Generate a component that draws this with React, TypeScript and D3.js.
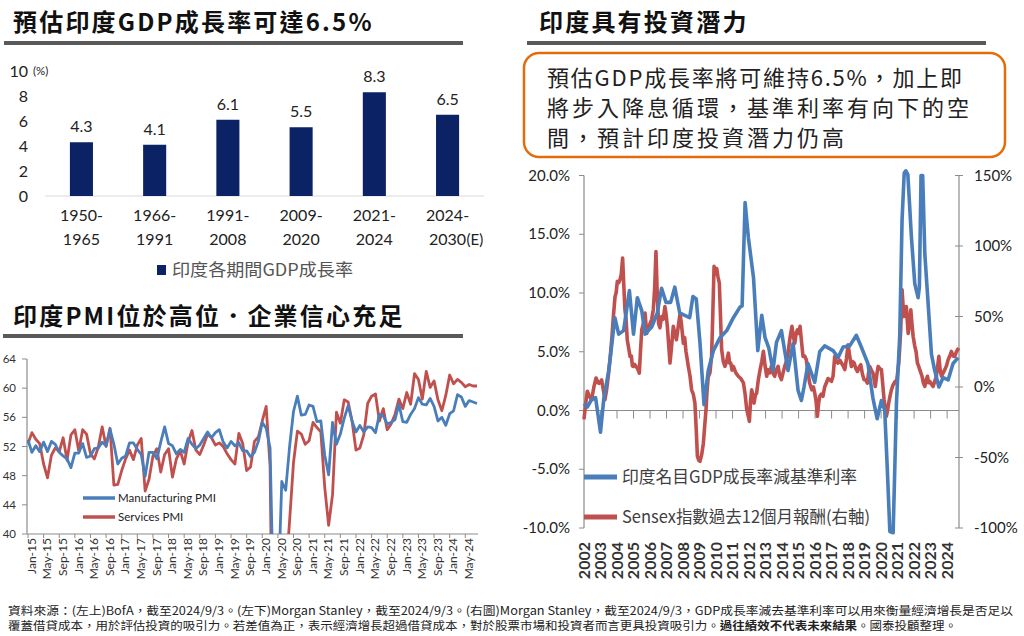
import React from "react";
import * as d3 from "d3";

const CJK = "'Noto Sans CJK TC', 'Noto Sans CJK SC', sans-serif";
const LAT = "Lato, 'Noto Sans', sans-serif";
const BLUE = "#4A7EBB";
const RED = "#C0504D";
const NAVY = "#0B2265";
const AXIS = "#8C8C8C";

// ---------- Panel 1: GDP growth by period ----------
const gdpPeriods = ["1950-1965", "1966-1991", "1991-2008", "2009-2020", "2021-2024", "2024-2030(E)"];
const gdpGrowth = [4.3, 4.1, 6.1, 5.5, 8.3, 6.5];
const gdpTicks = [0, 2, 4, 6, 8, 10];

// ---------- Panel 2: PMI (monthly Jan-15 .. Aug-24) ----------
const pmiTickLabels = [
  "Jan-15", "May-15", "Sep-15", "Jan-16", "May-16", "Sep-16", "Jan-17", "May-17", "Sep-17",
  "Jan-18", "May-18", "Sep-18", "Jan-19", "May-19", "Sep-19", "Jan-20", "May-20", "Sep-20",
  "Jan-21", "May-21", "Sep-21", "Jan-22", "May-22", "Sep-22", "Jan-23", "May-23", "Sep-23",
  "Jan-24", "May-24",
];
const pmiTicks = [40, 44, 48, 52, 56, 60, 64];
const manufacturingPMI = [
  52.9, 51.2, 52.1, 51.3, 52.6, 51.3, 52.7, 52.3, 51.2, 50.7, 50.3, 49.1,
  51.1, 51.1, 52.4, 50.5, 50.7, 51.7, 51.8, 52.6, 52.1, 54.4, 52.3, 49.6,
  50.4, 50.7, 52.5, 52.5, 51.6, 50.9, 47.9, 51.2, 51.2, 50.3, 52.6, 54.7,
  52.4, 52.1, 51.0, 51.6, 51.2, 53.1, 52.3, 51.7, 52.2, 53.1, 54.0, 53.2,
  53.9, 54.3, 52.6, 51.8, 52.7, 52.1, 52.5, 51.4, 51.4, 50.6, 51.2, 52.7,
  55.3, 54.5, 51.8, 27.4, 30.8, 47.2, 46.0, 52.0, 56.8, 58.9, 56.3, 56.4,
  57.7, 57.5, 55.4, 55.5, 50.8, 48.1, 55.3, 52.3, 53.7, 55.9, 57.6, 55.5,
  54.0, 54.9, 54.0, 54.7, 54.6, 53.9, 56.4, 56.2, 55.1, 55.3, 55.7, 57.8,
  55.4, 55.3, 56.4, 57.2, 58.7, 57.8, 57.7, 58.6, 57.5, 55.5, 56.0, 54.9,
  56.5, 56.9, 59.1, 58.8, 57.5, 58.3, 58.1, 57.9,
];
const servicesPMI = [
  52.4, 53.9, 53.0, 52.4, 49.6, 47.7, 50.8, 51.8, 51.3, 53.2, 50.1, 53.6,
  54.3, 51.4, 54.3, 53.7, 51.0, 50.3, 51.9, 54.7, 52.0, 54.5, 46.7, 46.8,
  48.7, 50.3, 51.5, 50.2, 52.2, 53.1, 45.9, 47.5, 50.7, 51.7, 48.5, 50.9,
  51.7, 47.8, 50.3, 51.4, 49.6, 52.6, 54.2, 51.5, 50.9, 52.2, 53.7, 53.2,
  52.2, 52.5, 52.0, 51.0, 50.2, 49.6, 53.8, 52.4, 48.7, 49.2, 52.7, 53.3,
  55.5, 57.5, 49.3, 5.4, 12.6, 33.7, 34.2, 41.8, 49.8, 54.1, 53.7, 52.3,
  52.8, 55.3, 54.6, 54.0, 46.4, 41.2, 45.4, 56.7, 55.2, 58.4, 58.1, 55.5,
  51.5, 51.8, 53.6, 57.9, 58.9, 59.2, 55.5, 57.2, 54.3, 55.1, 56.4, 58.5,
  57.2, 59.4, 57.8, 62.0, 61.2, 58.5, 62.3, 60.1, 61.0, 58.4, 56.9, 59.0,
  61.8, 60.6, 61.2, 60.8, 60.2, 60.5, 60.3, 60.3,
];

// ---------- Panel 3: nominal GDP growth minus policy rate vs Sensex 12m return ----------
const yearLabels = [
  2002, 2003, 2004, 2005, 2006, 2007, 2008, 2009, 2010, 2011, 2012, 2013,
  2014, 2015, 2016, 2017, 2018, 2019, 2020, 2021, 2022, 2023, 2024,
];
const leftTicks = [-10, -5, 0, 5, 10, 15, 20];
const rightTicks = [-100, -50, 0, 50, 100, 150];
const gdpMinusRate: [number, number][] = [
  [2002.0, 0.6], [2002.2, 0.3], [2002.45, 0.9], [2002.7, 1.1], [2003.0, -1.85], [2003.2, 1.0],
  [2003.5, 3.4], [2003.87, 7.9], [2004.1, 6.5], [2004.4, 6.8], [2004.75, 10.2], [2005.0, 6.5],
  [2005.23, 9.6], [2005.5, 8.5], [2005.7, 6.5], [2006.1, 7.1], [2006.44, 8.3], [2006.7, 10.4],
  [2006.97, 9.2], [2007.25, 9.2], [2007.5, 10.5], [2007.8, 8.3], [2008.1, 8.1], [2008.4, 7.9],
  [2008.6, 9.7], [2008.8, 9.5], [2009.03, 5.7], [2009.27, 0.5], [2009.53, 3.4], [2009.84, 5.1],
  [2010.24, 6.2], [2010.65, 6.8], [2011.05, 7.9], [2011.45, 8.8], [2011.58, 8.9], [2011.76, 17.7],
  [2011.96, 14.7], [2012.27, 11.3], [2012.53, 5.1], [2012.77, 8.1], [2012.97, 6.2], [2013.2, 5.3],
  [2013.45, 3.4], [2013.66, 5.8], [2013.96, 6.8], [2014.12, 5.4], [2014.36, 3.4], [2014.67, 5.7],
  [2014.97, 1.7], [2015.17, 0.85], [2015.33, 2.0], [2015.57, 4.0], [2015.98, 2.4], [2016.28, 5.0],
  [2016.58, 5.5], [2017.09, 5.1], [2017.39, 4.5], [2017.7, 5.4], [2018.1, 5.5], [2018.5, 6.4],
  [2018.8, 5.4], [2019.2, 4.0], [2019.5, 1.1], [2019.76, -0.7], [2020.02, 0.85], [2020.22, 0.0],
  [2020.38, -5.1], [2020.53, -10.3], [2020.73, -10.4], [2020.93, 0.6], [2021.13, 6.4], [2021.27, 16.2],
  [2021.4, 20.2], [2021.5, 20.4], [2021.62, 20.1], [2021.84, 14.7], [2022.04, 10.8], [2022.24, 9.6],
  [2022.32, 10.5], [2022.42, 20.0], [2022.52, 20.0], [2022.65, 13.3], [2022.85, 9.1], [2023.05, 4.8],
  [2023.25, 3.4], [2023.5, 2.0], [2023.76, 2.8], [2024.06, 2.6], [2024.36, 4.0], [2024.67, 4.5],
];
const sensex12m: [number, number][] = [
  [2002.0, -23], [2002.1, -12], [2002.2, -3], [2002.3, -6], [2002.46, -9], [2002.6, 0], [2002.73, 6.4],
  [2002.85, 3], [2002.93, 2.6], [2003.07, 5], [2003.17, -2], [2003.27, -9], [2003.37, -2], [2003.47, 7.6],
  [2003.58, 20], [2003.68, 33.5], [2003.78, 50], [2003.88, 64], [2003.95, 67], [2004.02, 75], [2004.1, 74],
  [2004.18, 76], [2004.26, 80], [2004.34, 91.5], [2004.42, 70], [2004.48, 55], [2004.55, 48], [2004.62, 33.5],
  [2004.7, 28], [2004.79, 21.7], [2004.87, 22], [2004.93, 15], [2004.99, 14.6], [2005.07, 16], [2005.15, 14.6],
  [2005.25, 13], [2005.35, 9.9], [2005.42, 25], [2005.5, 40.6], [2005.6, 45], [2005.7, 52.4], [2005.8, 38],
  [2005.9, 42], [2006.0, 45], [2006.1, 48], [2006.2, 55], [2006.28, 70], [2006.36, 96], [2006.44, 65],
  [2006.52, 45], [2006.6, 42], [2006.7, 50], [2006.8, 48], [2006.9, 57], [2006.97, 52], [2007.05, 43],
  [2007.13, 30], [2007.21, 17], [2007.3, 28], [2007.41, 43], [2007.5, 38], [2007.6, 33.5], [2007.7, 42],
  [2007.82, 52], [2007.9, 45], [2008.02, 31], [2008.1, 35], [2008.18, 25], [2008.25, 20], [2008.32, 14.6],
  [2008.42, 8], [2008.52, -2], [2008.62, -5], [2008.72, -11.4], [2008.8, -30], [2008.87, -49], [2008.95, -52],
  [2009.03, -52.7], [2009.13, -48], [2009.23, -40], [2009.31, -28], [2009.39, -16.5], [2009.46, -2],
  [2009.53, 7.3], [2009.63, 10], [2009.73, 21.7], [2009.8, 50], [2009.88, 85.6], [2009.96, 80], [2010.04, 84],
  [2010.12, 78], [2010.2, 73.6], [2010.27, 50], [2010.34, 26.4], [2010.44, 18], [2010.54, 14.6], [2010.64, 18],
  [2010.75, 24], [2010.82, 17], [2010.89, 17], [2010.97, 12], [2011.05, 14.6], [2011.2, 10], [2011.35, 7.6],
  [2011.5, 6], [2011.66, 2.9], [2011.76, -5], [2011.86, -16], [2011.94, -20], [2012.02, -24.4], [2012.09, -10],
  [2012.16, -2], [2012.23, -6], [2012.3, -11.4], [2012.38, -6], [2012.46, -4.3], [2012.56, 5], [2012.67, 12.3],
  [2012.77, 18], [2012.87, 25.3], [2012.97, 15], [2013.07, 7.6], [2013.15, 12.3], [2013.25, 10], [2013.35, 14.6],
  [2013.45, 10], [2013.55, 7.6], [2013.65, 12], [2013.76, 14.6], [2013.86, 8], [2013.96, 5.2], [2014.06, 10],
  [2014.16, 14.6], [2014.26, 18], [2014.36, 24], [2014.48, 35], [2014.6, 43], [2014.68, 36], [2014.77, 31],
  [2014.85, 38], [2014.93, 40.6], [2015.01, 38], [2015.09, 43], [2015.18, 32], [2015.27, 21.7], [2015.37, 22],
  [2015.47, 19.3], [2015.57, 10], [2015.67, 2.8], [2015.8, -2], [2015.9, 0], [2015.98, -4.3], [2016.06, -10],
  [2016.14, -20.8], [2016.21, -12], [2016.28, -6.6], [2016.38, -5], [2016.48, -6.6], [2016.58, 0], [2016.68, 2.8],
  [2016.78, 6], [2016.89, 5.2], [2016.99, 4], [2017.09, 7.6], [2017.19, 21.7], [2017.29, 18], [2017.39, 17],
  [2017.5, 19], [2017.6, 17], [2017.7, 15], [2017.8, 12.3], [2017.9, 20], [2018.0, 30], [2018.1, 22],
  [2018.2, 14.6], [2018.28, 18], [2018.37, 17], [2018.47, 13], [2018.57, 11], [2018.67, 14], [2018.77, 15.8],
  [2018.87, 9], [2018.97, 5.2], [2019.07, 5], [2019.17, 2.8], [2019.24, 10], [2019.31, 14.6], [2019.41, 12],
  [2019.51, 9.9], [2019.58, 5], [2019.65, 0.4], [2019.73, 8], [2019.82, 14.6], [2019.92, 13], [2020.02, 12.3],
  [2020.1, 2], [2020.18, -9], [2020.25, -15], [2020.32, -20.8], [2020.4, -16], [2020.46, -11.4], [2020.55, -6],
  [2020.63, -1.9], [2020.71, 1], [2020.79, 2.8], [2020.86, 4], [2020.93, 2.8], [2021.0, 10], [2021.07, 17],
  [2021.13, 28], [2021.19, 40.6], [2021.23, 55], [2021.27, 69], [2021.33, 58], [2021.39, 50], [2021.46, 55],
  [2021.53, 57], [2021.58, 48], [2021.64, 38], [2021.72, 45], [2021.8, 54.8], [2021.87, 45], [2021.94, 36],
  [2022.04, 29], [2022.12, 25], [2022.2, 17], [2022.27, 15], [2022.34, 12.3], [2022.41, 10], [2022.48, 7.6],
  [2022.56, 3], [2022.65, 0.4], [2022.73, 5], [2022.81, 7.6], [2022.88, 3], [2022.95, 4], [2023.05, 2],
  [2023.15, 0.4], [2023.25, 4], [2023.35, 7.6], [2023.43, 15], [2023.5, 21.7], [2023.58, 12], [2023.66, 7.6],
  [2023.76, 10], [2023.86, 12.3], [2023.96, 15], [2024.06, 19.3], [2024.16, 22], [2024.26, 25.3], [2024.36, 22],
  [2024.46, 21.7], [2024.56, 25], [2024.7, 27.6],
];

const boxLines = [
  "預估GDP成長率將可維持6.5%，加上即",
  "將步入降息循環，基準利率有向下的空",
  "間，預計印度投資潛力仍高",
];

function Title({ x, y, text, ux1, ux2, uy }: { x: number; y: number; text: string; ux1: number; ux2: number; uy: number }) {
  return (
    <g>
      <text x={x} y={y} fontFamily={CJK} fontWeight={700} fontSize={24} letterSpacing={2.2} fill="#111">
        {text}
      </text>
      <rect x={ux1} y={uy} width={ux2 - ux1} height={4} fill="#5A5A5A" />
    </g>
  );
}

export default function App() {
  // Panel 1 scales
  const xb = d3.scaleBand<string>().domain(gdpPeriods).range([45, 484]).paddingInner(0.685).paddingOuter(0.34);
  const yb = d3.scaleLinear().domain([0, 10]).range([196, 71]);

  // Panel 2 scales
  const xp = d3.scaleLinear().domain([0, manufacturingPMI.length - 1]).range([28, 477]);
  const yp = d3.scaleLinear().domain([40, 64]).range([534, 359]);
  const pmiLine = d3
    .line<number>()
    .x((_, i) => xp(i))
    .y((d) => yp(d));

  // Panel 3 scales
  const xr = d3.scaleLinear().domain([2002, 2024.72]).range([584, 959]);
  const yl = d3.scaleLinear().domain([-10, 20]).range([528, 175.5]);
  const yr = d3.scaleLinear().domain([-100, 150]).range([528, 175.5]);
  const blueLine = d3
    .line<[number, number]>()
    .x((d) => xr(d[0]))
    .y((d) => yl(d[1]));
  const redLine = d3
    .line<[number, number]>()
    .x((d) => xr(d[0]))
    .y((d) => yr(d[1]));

  return (
    <svg
      width={1024}
      height={636}
      viewBox="0 0 1024 636"
      style={{ position: "absolute", left: 0, top: 0, background: "#fff" }}
    >
      <rect x={0} y={0} width={1024} height={636} fill="#fff" />

      {/* ================= Panel 1 ================= */}
      <Title x={13} y={31} text="預估印度GDP成長率可達6.5%" ux1={4} ux2={463} uy={41} />
      {gdpTicks.map((t) => (
        <text key={t} x={28} y={yb(t) + 6} textAnchor="end" fontFamily={LAT} fontSize={16} fill="#222">
          {t}
        </text>
      ))}
      <text x={33} y={yb(10) + 4} fontFamily={LAT} fontSize={11.5} fill="#222">
        (%)
      </text>
      <line x1={45} x2={484} y1={yb(0)} y2={yb(0)} stroke="#D9D9D9" strokeWidth={1.2} />
      {gdpPeriods.map((p, i) => {
        const x0 = xb(p) as number;
        const cx = x0 + xb.bandwidth() / 2;
        const [a, b] = p.split("-");
        const m = b.match(/^(\d+)(.*)$/) as RegExpMatchArray;
        return (
          <g key={p}>
            <rect x={x0} y={yb(gdpGrowth[i])} width={xb.bandwidth()} height={yb(0) - yb(gdpGrowth[i])} fill={NAVY} />
            <text x={cx} y={yb(gdpGrowth[i]) - 10} textAnchor="middle" fontFamily={LAT} fontSize={16} fill="#222">
              {gdpGrowth[i].toFixed(1)}
            </text>
            <text x={cx} y={221} textAnchor="middle" fontFamily={LAT} fontSize={16} fill="#222">
              {a + "-"}
            </text>
            <text x={cx} y={245} textAnchor="middle" fontFamily={LAT} fontSize={16} fill="#222">
              {m[1]}
            </text>
            {m[2] ? (
              <text x={cx + 19} y={245} fontFamily={LAT} fontSize={15} fill="#222">
                {m[2]}
              </text>
            ) : null}
          </g>
        );
      })}
      <rect x={157} y={265} width={9} height={10} fill={NAVY} />
      <text x={172} y={276} fontFamily={CJK} fontSize={17} fill="#555" textLength={181} lengthAdjust="spacingAndGlyphs">
        印度各期間GDP成長率
      </text>

      {/* ================= Panel 2 ================= */}
      <Title x={13} y={325} text="印度PMI位於高位．企業信心充足" ux1={3} ux2={463} uy={334} />
      <defs>
        <clipPath id="pmiClip">
          <rect x={27} y={350} width={455} height={184} />
        </clipPath>
      </defs>
      <line x1={27} x2={27} y1={yp(64)} y2={yp(40)} stroke={AXIS} strokeWidth={1.2} />
      <line x1={27} x2={478} y1={yp(40)} y2={yp(40)} stroke={AXIS} strokeWidth={1.2} />
      {pmiTicks.map((t) => (
        <g key={t}>
          <line x1={22} x2={27} y1={yp(t)} y2={yp(t)} stroke={AXIS} strokeWidth={1} />
          <text x={16} y={yp(t) + 4} textAnchor="end" fontFamily={LAT} fontSize={11.5} fill="#333">
            {t}
          </text>
        </g>
      ))}
      {pmiTickLabels.map((lab, k) => {
        const x = xp(k * 4);
        return (
          <g key={lab}>
            <line x1={x} x2={x} y1={534} y2={538} stroke={AXIS} strokeWidth={1} />
            <text
              transform={`translate(${x + 3.5},${538}) rotate(-90)`}
              textAnchor="end"
              dy="0.35em"
              fontFamily={LAT}
              fontSize={12}
              fill="#333"
            >
              {lab}
            </text>
          </g>
        );
      })}
      <g clipPath="url(#pmiClip)">
        <path d={pmiLine(servicesPMI) as string} fill="none" stroke={RED} strokeWidth={2.8} strokeLinejoin="round" />
        <path d={pmiLine(manufacturingPMI) as string} fill="none" stroke={BLUE} strokeWidth={2.8} strokeLinejoin="round" />
      </g>
      <line x1={83} x2={115} y1={498} y2={498} stroke={BLUE} strokeWidth={3.5} />
      <text x={118} y={502} fontFamily={LAT} fontSize={11.5} fill="#222">
        Manufacturing PMI
      </text>
      <line x1={83} x2={115} y1={517} y2={517} stroke={RED} strokeWidth={3.5} />
      <text x={118} y={521} fontFamily={LAT} fontSize={11.5} fill="#222">
        Services PMI
      </text>

      {/* ================= Panel 3 ================= */}
      <Title x={539} y={31} text="印度具有投資潛力" ux1={527} ux2={986} uy={41} />
      <rect x={524} y={53} width={481} height={104} rx={15} ry={15} fill="#fff" stroke="#E46C0A" strokeWidth={2.5} />
      {boxLines.map((l, i) => (
        <text
          key={i}
          x={547}
          y={86 + i * 30}
          fontFamily={CJK}
          fontSize={22}
          fill="#222"
          textLength={[415, 422, 297][i]}
          lengthAdjust="spacing"
        >
          {l}
        </text>
      ))}

      {/* axes */}
      <line x1={584} x2={584} y1={yl(20)} y2={yl(-10)} stroke={AXIS} strokeWidth={1.2} />
      <line x1={959} x2={959} y1={yr(150)} y2={yr(-100)} stroke={AXIS} strokeWidth={1.2} />
      <line x1={584} x2={959} y1={yl(0)} y2={yl(0)} stroke={AXIS} strokeWidth={1.2} />
      {leftTicks.map((t) => (
        <g key={t}>
          <line x1={579} x2={584} y1={yl(t)} y2={yl(t)} stroke={AXIS} strokeWidth={1} />
          <text x={570} y={yl(t) + 5} textAnchor="end" fontFamily={LAT} fontSize={15} fill="#222">
            {t.toFixed(1) + "%"}
          </text>
        </g>
      ))}
      {rightTicks.map((t) => (
        <g key={t}>
          <line x1={955} x2={963} y1={yr(t)} y2={yr(t)} stroke={AXIS} strokeWidth={1} />
          <text x={974} y={yr(t) + 5} fontFamily={LAT} fontSize={15} fill="#222">
            {t + "%"}
          </text>
        </g>
      ))}
      {yearLabels.map((yv) => {
        const x = xr(yv);
        return (
          <g key={yv}>
            <line x1={x} x2={x} y1={yl(0)} y2={yl(0) + 8} stroke={AXIS} strokeWidth={1} />
            <text
              transform={`translate(${x},${542}) rotate(-90)`}
              textAnchor="end"
              dy="0.36em"
              fontFamily={LAT}
              fontWeight={700}
              fontSize={16}
              fill="#333"
            >
              {yv}
            </text>
          </g>
        );
      })}
      <path d={redLine(sensex12m) as string} fill="none" stroke={RED} strokeWidth={3.6} strokeLinejoin="round" />
      <path d={blueLine(gdpMinusRate) as string} fill="none" stroke={BLUE} strokeWidth={3.6} strokeLinejoin="round" />

      {/* legend */}
      <line x1={584} x2={617} y1={477} y2={477} stroke={BLUE} strokeWidth={5} />
      <text x={622} y={483} fontFamily={CJK} fontSize={17} fill="#404040" textLength={235} lengthAdjust="spacingAndGlyphs">
        印度名目GDP成長率減基準利率
      </text>
      <line x1={584} x2={617} y1={517} y2={517} stroke={RED} strokeWidth={5} />
      <text x={622} y={523} fontFamily={CJK} fontSize={17} fill="#404040" textLength={248} lengthAdjust="spacingAndGlyphs">
        Sensex指數過去12個月報酬(右軸)
      </text>

      {/* ================= Footnote ================= */}
      <text x={8} y={615} fontFamily={CJK} fontSize={11.5} fill="#222" textLength={1005} lengthAdjust="spacingAndGlyphs">
        資料來源：(左上)BofA，截至2024/9/3。(左下)Morgan Stanley，截至2024/9/3。(右圖)Morgan Stanley，截至2024/9/3，GDP成長率減去基準利率可以用來衡量經濟增長是否足以
      </text>
      <text x={8} y={630} fontFamily={CJK} fontSize={11.5} fill="#222" textLength={949} lengthAdjust="spacingAndGlyphs">
        覆蓋借貸成本，用於評估投資的吸引力。若差值為正，表示經濟增長超過借貸成本，對於股票市場和投資者而言更具投資吸引力。
        <tspan fontWeight={700}>過往績效不代表未來結果</tspan>。國泰投顧整理。
      </text>
    </svg>
  );
}
